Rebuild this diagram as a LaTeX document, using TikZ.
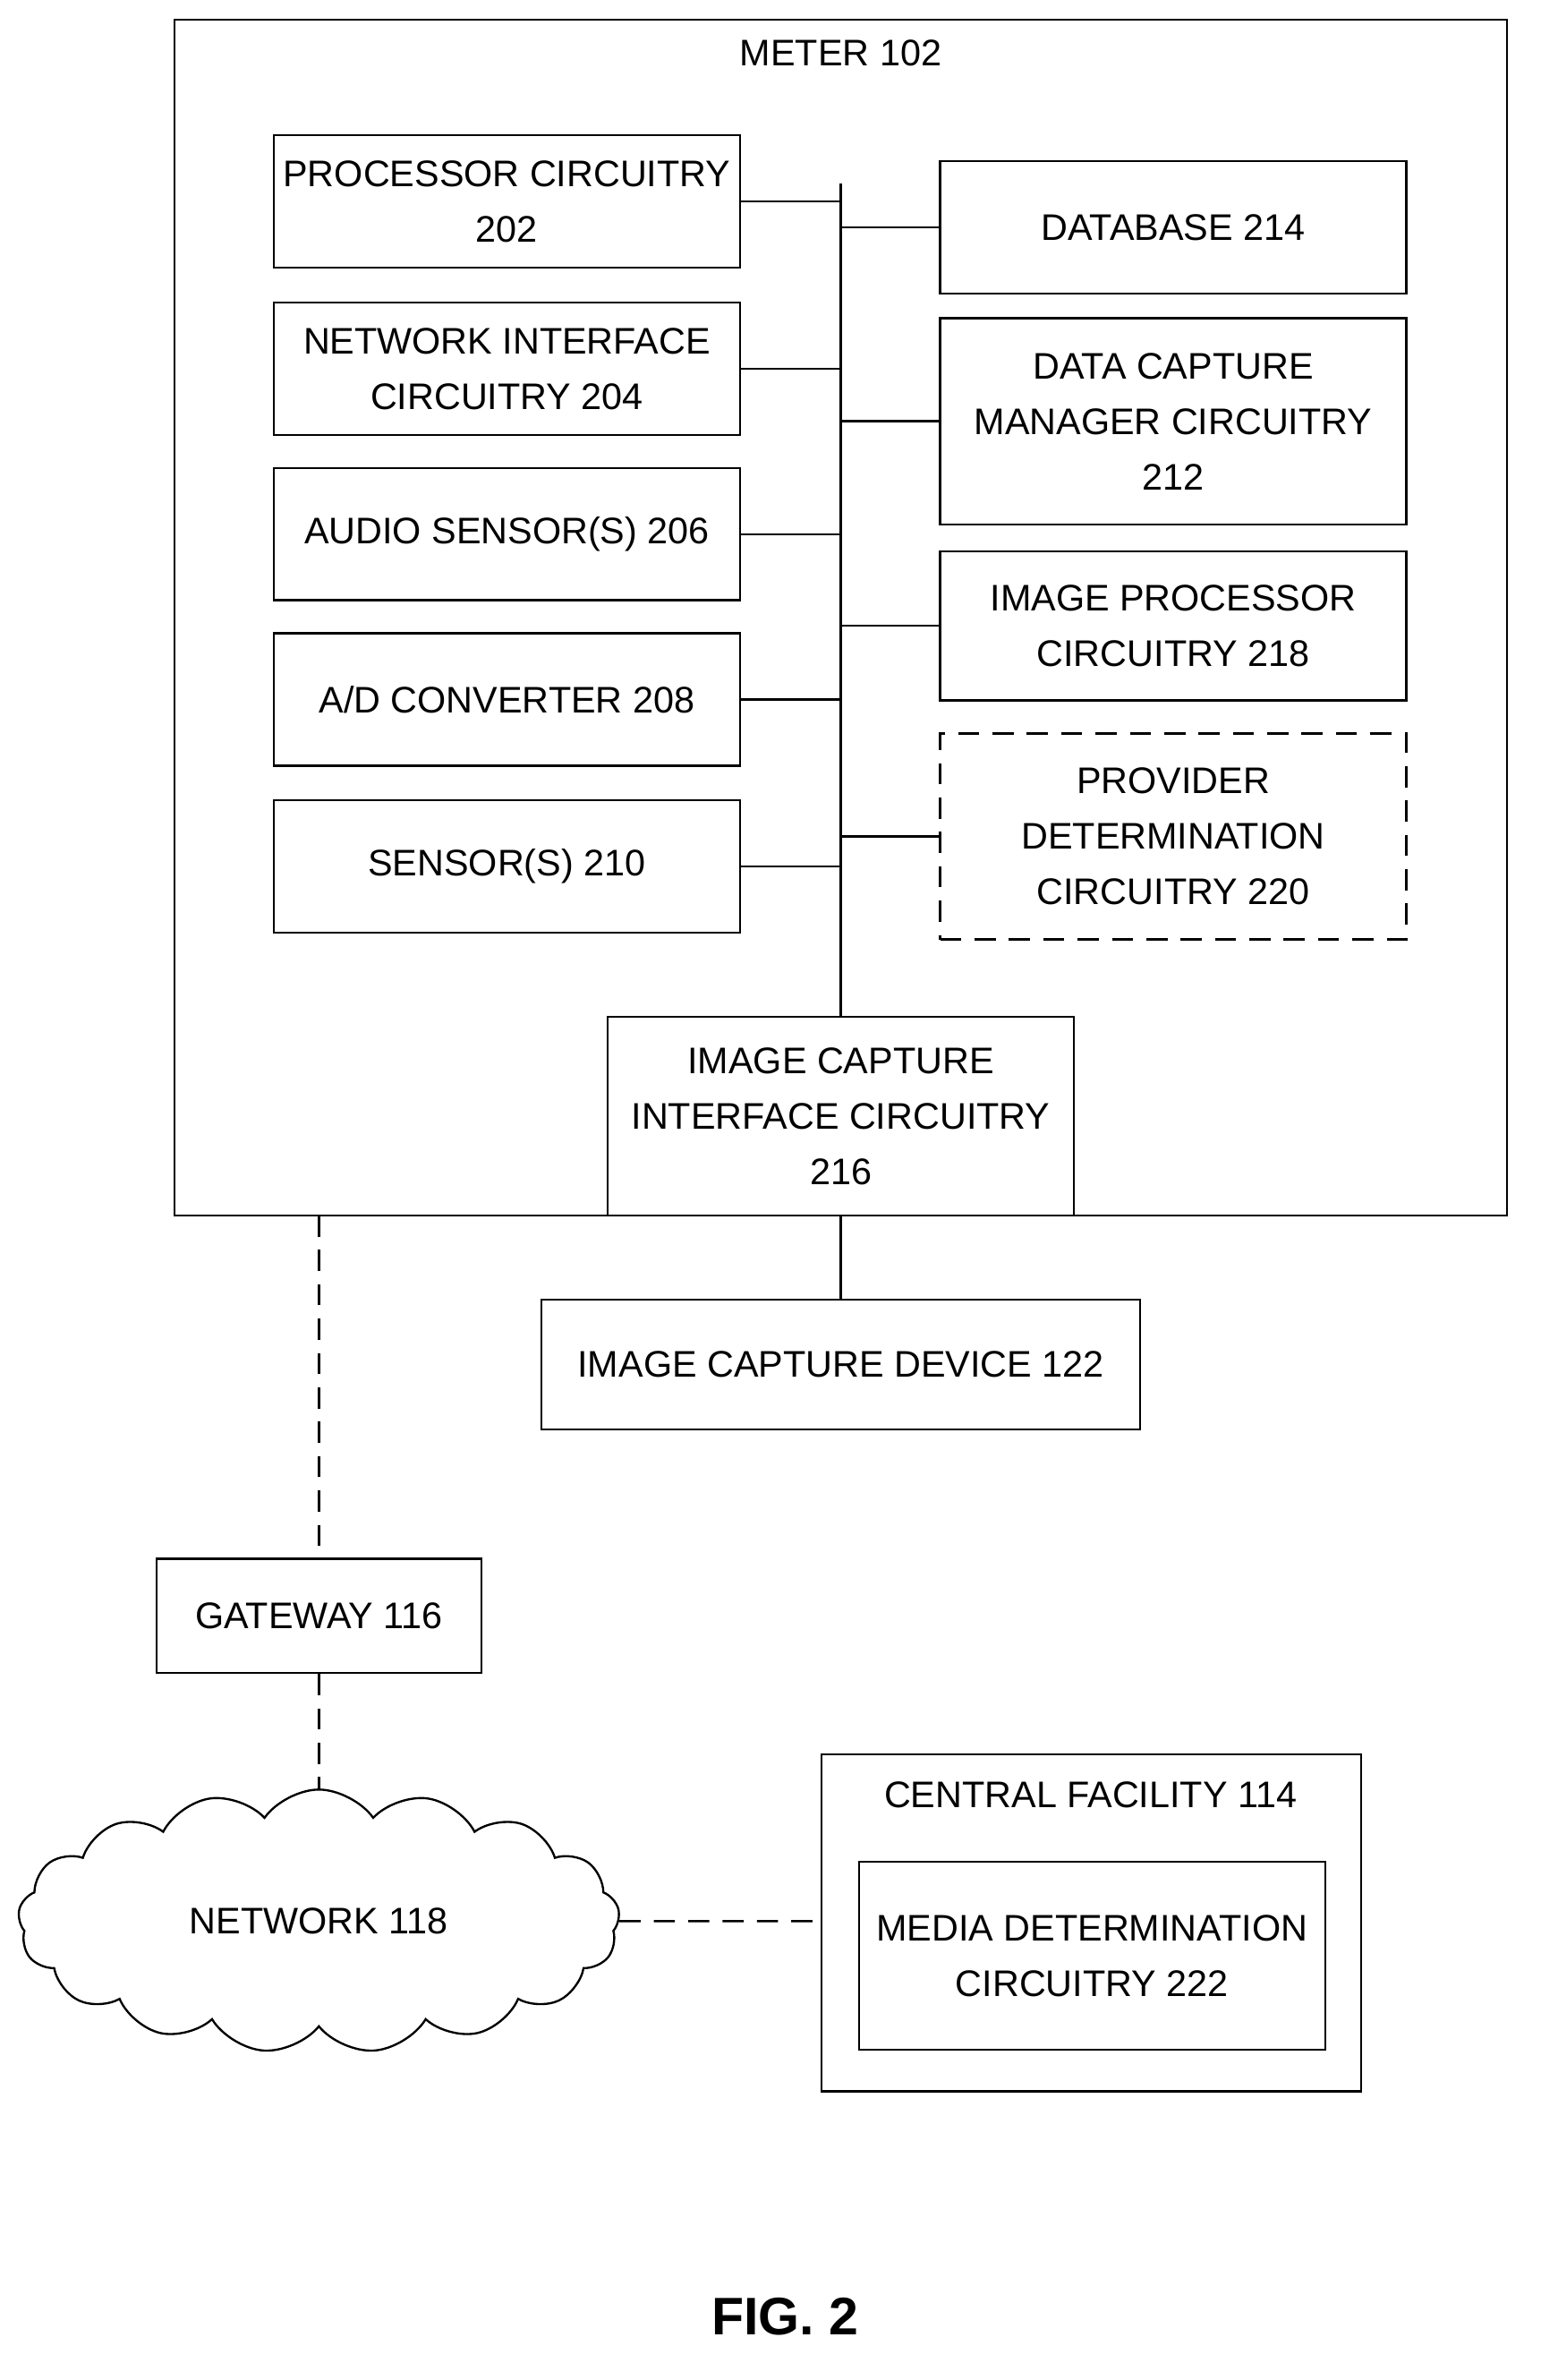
\documentclass[tikz,border=0pt]{standalone}
\usepackage{fontspec}
\setmainfont{Liberation Sans}
\usetikzlibrary{shapes.symbols}
\begin{document}
\begin{tikzpicture}[x=0.02cm, y=-0.02cm,
    blk/.style={draw, thick, align=center, font=\fontsize{14}{21}\selectfont, inner sep=0pt},
    dashblk/.style={blk, dashed, dash pattern=on 8pt off 5pt},
    link/.style={thick},
    dlink/.style={thick, dashed, dash pattern=on 8pt off 5pt}]
    \useasboundingbox (0,0) rectangle (1024,1582);
    % meter
    \draw [thick] (116,13) rectangle (1002,808);
    \node [font=\fontsize{14}{17}\selectfont] (meter) at (559,35) {METER 102};
    % left column
    \node [blk, minimum width=6.2cm, minimum height=1.76cm] (proc) at (337,134) {PROCESSOR CIRCUITRY\\202};
    \node [blk, minimum width=6.2cm, minimum height=1.76cm] (net) at (337,245) {NETWORK INTERFACE\\CIRCUITRY 204};
    \node [blk, minimum width=6.2cm, minimum height=1.76cm] (audio) at (337,355) {AUDIO SENSOR(S) 206};
    \node [blk, minimum width=6.2cm, minimum height=1.76cm] (adc) at (337,465) {A/D CONVERTER 208};
    \node [blk, minimum width=6.2cm, minimum height=1.76cm] (sens) at (337,576) {SENSOR(S) 210};
    % right column
    \node [blk, minimum width=6.2cm, minimum height=1.76cm] (db) at (780,151) {DATABASE 214};
    \node [blk, minimum width=6.2cm, minimum height=2.74cm] (dcm) at (780,280) {DATA CAPTURE\\MANAGER CIRCUITRY\\212};
    \node [blk, minimum width=6.2cm, minimum height=1.98cm] (imgp) at (780,416) {IMAGE PROCESSOR\\CIRCUITRY 218};
    \node [dashblk, minimum width=6.2cm, minimum height=2.74cm] (prov) at (780,556) {PROVIDER\\DETERMINATION\\CIRCUITRY 220};
    \node [blk, minimum width=6.2cm, minimum height=2.64cm] (ici) at (559,742) {IMAGE CAPTURE\\INTERFACE CIRCUITRY\\216};
    \node [blk, minimum width=7.96cm, minimum height=1.72cm] (icd) at (559,907) {IMAGE CAPTURE DEVICE 122};
    % bus
    \coordinate (bustop) at (559,122);
    \draw [link] (bustop) -- (ici.north);
    \foreach \n in {proc,net,audio,adc,sens}
        \draw [link] (\n.east) -- (\n.east -| bustop);
    \foreach \n in {db,dcm,imgp,prov}
        \draw [link] (\n.west) -- (\n.west -| bustop);
    \draw [link] (ici.south) -- (icd.north);
    % gateway and network
    \node [blk, minimum width=4.32cm, minimum height=1.52cm] (gw) at (212,1074) {GATEWAY 116};
    \node [draw, thick, cloud, cloud puffs=17, cloud puff arc=110, aspect=2.3,
        minimum width=8cm, minimum height=3.5cm, inner sep=0pt,
        font=\fontsize{14}{17}\selectfont] (nw) at (212,1277) {NETWORK 118};
    \coordinate (mbot) at (212,808);
    \draw [dlink] (mbot) -- (gw.north);
    \draw [dlink] (gw.south) -- (nw.north);
    % central facility
    \draw [thick] (546,1166) rectangle (905,1390);
    \coordinate (cfw) at (546,1277);
    \node [font=\fontsize{14}{17}\selectfont] (cf) at (725,1193) {CENTRAL FACILITY 114};
    \node [blk, minimum width=6.2cm, minimum height=2.5cm] (media) at (726,1300) {MEDIA DETERMINATION\\CIRCUITRY 222};
    \draw [dlink] (nw.east) -- (cfw);
    \node [font=\bfseries\fontsize{20}{24}\selectfont] (fig) at (522,1540) {FIG. 2};
\end{tikzpicture}
\end{document}
